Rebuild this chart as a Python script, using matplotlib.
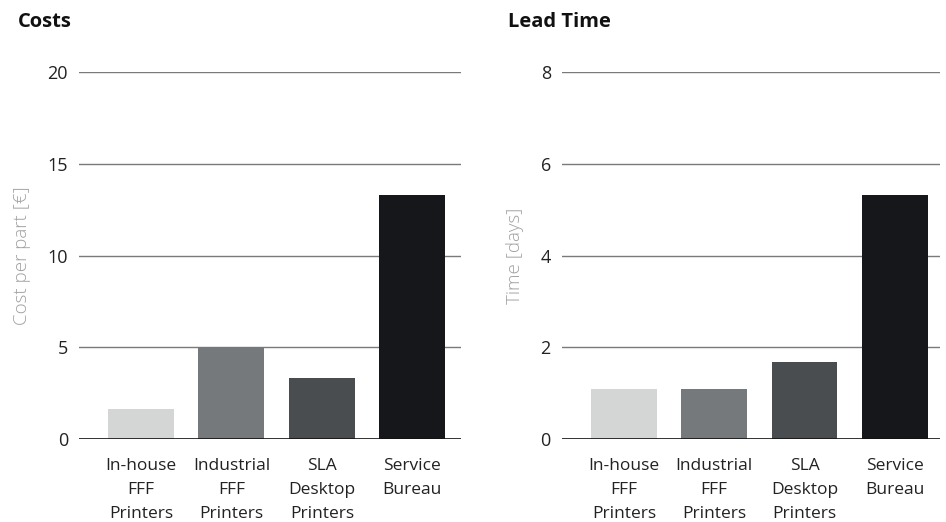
import matplotlib
matplotlib.use('Agg')
import matplotlib.pyplot as plt
import numpy as np

plt.rcParams['font.family'] = ['Open Sans', 'DejaVu Sans']

categories = ['In-house\nFFF\nPrinters', 'Industrial\nFFF\nPrinters', 'SLA\nDesktop\nPrinters', 'Service\nBureau']
cost_values = [1.65, 5.0, 3.3, 13.3]
time_values = [1.1, 1.1, 1.67, 5.33]
cost_ticks = [0, 5, 10, 15, 20]
time_ticks = [0, 2, 4, 6, 8]
bar_colors = ['#d4d6d5', '#76797c', '#4a4d50', '#16171a']

fig = plt.figure(figsize=(9.46, 5.22), dpi=100)
ax1 = fig.add_axes([0.0835, 0.159, 0.4038, 0.703])
ax2 = fig.add_axes([0.594, 0.159, 0.3996, 0.703])

def draw_panel(ax, values, ticks, ylabel, xmax):
    x = np.arange(len(categories))
    ax.set_axisbelow(True)
    for t in ticks[1:]:
        ax.axhline(t, color='#7a7a7a', lw=1.0, zorder=0)
    ax.bar(x, values, width=0.73, color=bar_colors, zorder=2)
    ax.axhline(0, color='#111111', lw=1.2, zorder=3)
    ax.set_xlim(-0.687, xmax)
    ax.set_ylim(0, ticks[-1])
    ax.set_yticks(ticks)
    ax.set_yticklabels([str(t) for t in ticks], fontsize=13, color='#222222')
    ax.set_xticks(x)
    ax.set_xticklabels(categories, fontsize=12.5, color='#222222', linespacing=1.65)
    ax.tick_params(axis='both', length=0)
    ax.tick_params(axis='y', pad=8)
    ax.tick_params(axis='x', pad=14)
    for s in ax.spines.values():
        s.set_visible(False)
    ax.set_ylabel(ylabel, fontsize=13.5, color='#a0a0a0', fontweight='light', labelpad=12)
    return ax

draw_panel(ax1, cost_values, cost_ticks, 'Cost per part [€]', 3.54)
draw_panel(ax2, time_values, time_ticks, 'Time [days]', 3.50)

fig.text(18 / 946, 1 - 22 / 522, 'Costs', fontsize=14.5, fontweight='bold', va='center', ha='left', color='#111111')
fig.text(508 / 946, 1 - 22 / 522, 'Lead Time', fontsize=14.5, fontweight='bold', va='center', ha='left', color='#111111')

fig.savefig('out.png', dpi=100)
